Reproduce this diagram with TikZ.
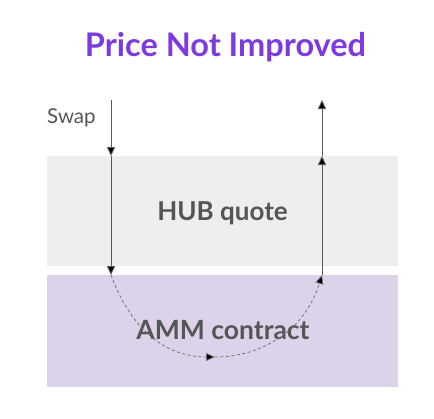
\documentclass[tikz,border=0pt]{standalone}
\usepackage{fontspec}
\setmainfont{Lato}
\usetikzlibrary{arrows.meta}

\definecolor{titlepurple}{HTML}{7C3AE0}
\definecolor{textgray}{HTML}{555555}
\definecolor{hubgray}{HTML}{EEEEEE}
\definecolor{ammpurple}{HTML}{DCD3EB}

\begin{document}
\begin{tikzpicture}[x=1pt,y=-1pt,
  band/.style={draw=none,inner sep=0pt,minimum width=351pt},
  flow/.style={draw=black!65,line width=0.8pt,-{Triangle[length=9pt,width=8pt,fill=black]}},
  hop/.style={draw=black!55,line width=0.8pt,dashed,dash pattern=on 3pt off 2.5pt,-{Triangle[length=9pt,width=8pt,fill=black]}}]
\useasboundingbox (0,0) rectangle (434,418);
\node[band,fill=hubgray,minimum height=110pt] (hub) at (222.5,211) {};
\node[band,fill=ammpurple,minimum height=112pt] (amm) at (222.5,331) {};
\node[font=\bfseries\fontsize{32.5}{38}\selectfont,text=titlepurple] (title) at (225.5,47) {Price Not Improved};
\node[font=\bfseries\fontsize{26}{31}\selectfont,text=textgray] (hubtext) at (222.5,213) {HUB quote};
\node[font=\bfseries\fontsize{26.5}{31}\selectfont,text=textgray] (ammtext) at (223,330) {AMM contract};
\node[font=\fontsize{20.5}{24}\selectfont,text=textgray,anchor=west,inner sep=0pt] (swap) at (47,118) {Swap};
% left side, going down
\coordinate (inTop) at (111,100);
\coordinate (inHub) at (111,156);
\coordinate (inAmm) at (111,275);
\draw[flow] (inTop) -- (inHub);
\draw[flow] (inHub) -- (inAmm);
% through the pool
\coordinate (poolLow) at (215,357);
\coordinate (outAmm) at (322,275);
\draw[hop] (inAmm) .. controls (135,340) and (175,357) .. (poolLow);
\draw[hop] (poolLow) .. controls (262,357) and (305,330) .. (outAmm);
% right side, going up
\coordinate (outHub) at (322,156);
\coordinate (outTop) at (322,100);
\draw[flow] (outAmm) -- (outHub);
\draw[flow] (outHub) -- (outTop);
\end{tikzpicture}
\end{document}
